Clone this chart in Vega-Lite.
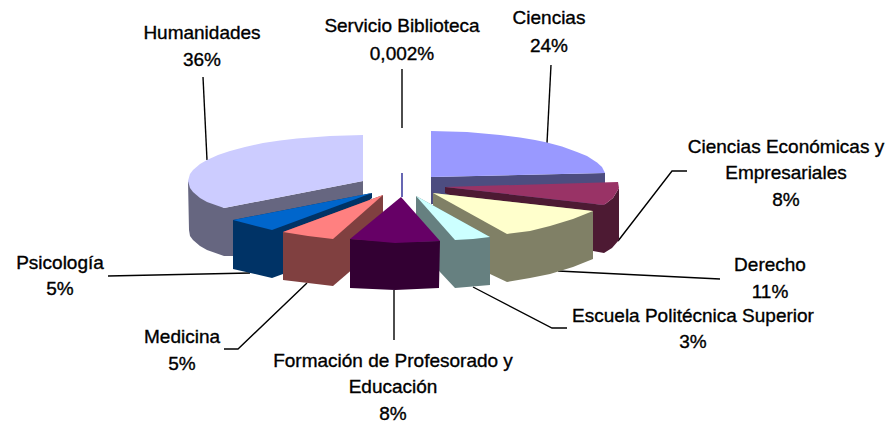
{"$schema":"https://vega.github.io/schema/vega-lite/v6.json","width":888,"height":425,"padding":0,"autosize":{"type":"fit","contains":"padding"},"background":"white","view":{"stroke":null},
"datasets":{"pieces":[
{"s":"ciw","c":"Ciencias lado","i":1,"x":431,"y":177},{"s":"ciw","c":"Ciencias lado","i":2,"x":605,"y":173},{"s":"ciw","c":"Ciencias lado","i":3,"x":605,"y":205},{"s":"ciw","c":"Ciencias lado","i":4,"x":445,"y":195},{"s":"ciw","c":"Ciencias lado","i":5,"x":433,"y":204},{"s":"ciw","c":"Ciencias lado","i":6,"x":431,"y":204},
{"s":"cit","c":"Ciencias","i":1,"x":431,"y":131},{"s":"cit","c":"Ciencias","i":2,"x":467,"y":132},{"s":"cit","c":"Ciencias","i":3,"x":500,"y":135},{"s":"cit","c":"Ciencias","i":4,"x":520,"y":137.5},{"s":"cit","c":"Ciencias","i":5,"x":535,"y":140},{"s":"cit","c":"Ciencias","i":6,"x":547,"y":142.5},{"s":"cit","c":"Ciencias","i":7,"x":562,"y":146.5},{"s":"cit","c":"Ciencias","i":8,"x":577,"y":152},{"s":"cit","c":"Ciencias","i":9,"x":587,"y":156},{"s":"cit","c":"Ciencias","i":10,"x":597,"y":162.5},{"s":"cit","c":"Ciencias","i":11,"x":602,"y":167},{"s":"cit","c":"Ciencias","i":12,"x":605,"y":173},{"s":"cit","c":"Ciencias","i":13,"x":431,"y":177},
{"s":"ecw","c":"Economicas lado","i":1,"x":445,"y":187},{"s":"ecw","c":"Economicas lado","i":2,"x":604,"y":205},{"s":"ecw","c":"Economicas lado","i":3,"x":613,"y":198},{"s":"ecw","c":"Economicas lado","i":4,"x":619,"y":188},{"s":"ecw","c":"Economicas lado","i":5,"x":619,"y":240},{"s":"ecw","c":"Economicas lado","i":6,"x":612,"y":248},{"s":"ecw","c":"Economicas lado","i":7,"x":604,"y":253},{"s":"ecw","c":"Economicas lado","i":8,"x":560,"y":245},{"s":"ecw","c":"Economicas lado","i":9,"x":445,"y":193},
{"s":"ect","c":"Economicas","i":1,"x":445,"y":187},{"s":"ect","c":"Economicas","i":2,"x":618,"y":182},{"s":"ect","c":"Economicas","i":3,"x":619,"y":188},{"s":"ect","c":"Economicas","i":4,"x":613,"y":198},{"s":"ect","c":"Economicas","i":5,"x":604,"y":205},
{"s":"dew","c":"Derecho lado","i":1,"x":433,"y":193},{"s":"dew","c":"Derecho lado","i":2,"x":593,"y":211},{"s":"dew","c":"Derecho lado","i":3,"x":593,"y":259},{"s":"dew","c":"Derecho lado","i":4,"x":573,"y":267},{"s":"dew","c":"Derecho lado","i":5,"x":550,"y":274},{"s":"dew","c":"Derecho lado","i":6,"x":530,"y":278},{"s":"dew","c":"Derecho lado","i":7,"x":507,"y":282},{"s":"dew","c":"Derecho lado","i":8,"x":490,"y":274},{"s":"dew","c":"Derecho lado","i":9,"x":433,"y":215},
{"s":"det","c":"Derecho","i":1,"x":433,"y":193},{"s":"det","c":"Derecho","i":2,"x":593,"y":211},{"s":"det","c":"Derecho","i":3,"x":573,"y":219},{"s":"det","c":"Derecho","i":4,"x":550,"y":226},{"s":"det","c":"Derecho","i":5,"x":530,"y":231},{"s":"det","c":"Derecho","i":6,"x":507,"y":234},
{"s":"esw","c":"Escuela lado","i":1,"x":416,"y":196},{"s":"esw","c":"Escuela lado","i":2,"x":490,"y":237},{"s":"esw","c":"Escuela lado","i":3,"x":490,"y":285},{"s":"esw","c":"Escuela lado","i":4,"x":455,"y":288},{"s":"esw","c":"Escuela lado","i":5,"x":440,"y":272},{"s":"esw","c":"Escuela lado","i":6,"x":416,"y":240},
{"s":"est","c":"Escuela","i":1,"x":416,"y":196},{"s":"est","c":"Escuela","i":2,"x":490,"y":237},{"s":"est","c":"Escuela","i":3,"x":473,"y":239},{"s":"est","c":"Escuela","i":4,"x":455,"y":240},
{"s":"huw","c":"Humanidades lado","i":1,"x":363,"y":181},{"s":"huw","c":"Humanidades lado","i":2,"x":363,"y":195},{"s":"huw","c":"Humanidades lado","i":3,"x":233,"y":222},{"s":"huw","c":"Humanidades lado","i":4,"x":233,"y":256},{"s":"huw","c":"Humanidades lado","i":5,"x":224,"y":256},{"s":"huw","c":"Humanidades lado","i":6,"x":207,"y":250},{"s":"huw","c":"Humanidades lado","i":7,"x":200,"y":246},{"s":"huw","c":"Humanidades lado","i":8,"x":193,"y":240},{"s":"huw","c":"Humanidades lado","i":9,"x":190,"y":236},{"s":"huw","c":"Humanidades lado","i":10,"x":189,"y":230},{"s":"huw","c":"Humanidades lado","i":11,"x":188,"y":181},{"s":"huw","c":"Humanidades lado","i":12,"x":224,"y":208},
{"s":"hut","c":"Humanidades","i":1,"x":363,"y":135},{"s":"hut","c":"Humanidades","i":2,"x":330,"y":136},{"s":"hut","c":"Humanidades","i":3,"x":297,"y":138.5},{"s":"hut","c":"Humanidades","i":4,"x":280,"y":140.5},{"s":"hut","c":"Humanidades","i":5,"x":263,"y":143},{"s":"hut","c":"Humanidades","i":6,"x":245,"y":147},{"s":"hut","c":"Humanidades","i":7,"x":230,"y":151},{"s":"hut","c":"Humanidades","i":8,"x":218,"y":155},{"s":"hut","c":"Humanidades","i":9,"x":207,"y":160},{"s":"hut","c":"Humanidades","i":10,"x":200,"y":164},{"s":"hut","c":"Humanidades","i":11,"x":193,"y":170},{"s":"hut","c":"Humanidades","i":12,"x":190,"y":174},{"s":"hut","c":"Humanidades","i":13,"x":188,"y":181},{"s":"hut","c":"Humanidades","i":14,"x":190,"y":188},{"s":"hut","c":"Humanidades","i":15,"x":193,"y":192},{"s":"hut","c":"Humanidades","i":16,"x":200,"y":198},{"s":"hut","c":"Humanidades","i":17,"x":207,"y":202},{"s":"hut","c":"Humanidades","i":18,"x":224,"y":208},{"s":"hut","c":"Humanidades","i":19,"x":363,"y":181},
{"s":"psw","c":"Psicologia lado","i":1,"x":233,"y":220},{"s":"psw","c":"Psicologia lado","i":2,"x":372,"y":193},{"s":"psw","c":"Psicologia lado","i":3,"x":372,"y":198},{"s":"psw","c":"Psicologia lado","i":4,"x":283,"y":274},{"s":"psw","c":"Psicologia lado","i":5,"x":272,"y":278},{"s":"psw","c":"Psicologia lado","i":6,"x":233,"y":269},
{"s":"pst","c":"Psicologia","i":1,"x":233,"y":220},{"s":"pst","c":"Psicologia","i":2,"x":372,"y":193},{"s":"pst","c":"Psicologia","i":3,"x":272,"y":230},
{"s":"mew","c":"Medicina lado","i":1,"x":283,"y":232},{"s":"mew","c":"Medicina lado","i":2,"x":383,"y":195},{"s":"mew","c":"Medicina lado","i":3,"x":383,"y":243},{"s":"mew","c":"Medicina lado","i":4,"x":333,"y":286},{"s":"mew","c":"Medicina lado","i":5,"x":283,"y":280},
{"s":"met","c":"Medicina","i":1,"x":283,"y":232},{"s":"met","c":"Medicina","i":2,"x":383,"y":195},{"s":"met","c":"Medicina","i":3,"x":333,"y":239},{"s":"met","c":"Medicina","i":4,"x":308,"y":236},
{"s":"few","c":"Formacion lado","i":1,"x":350,"y":239},{"s":"few","c":"Formacion lado","i":2,"x":395,"y":242},{"s":"few","c":"Formacion lado","i":3,"x":440,"y":241},{"s":"few","c":"Formacion lado","i":4,"x":439,"y":288},{"s":"few","c":"Formacion lado","i":5,"x":395,"y":290},{"s":"few","c":"Formacion lado","i":6,"x":350,"y":288},
{"s":"fet","c":"Formacion","i":1,"x":401,"y":197},{"s":"fet","c":"Formacion","i":2,"x":440,"y":241},{"s":"fet","c":"Formacion","i":3,"x":395,"y":243},{"s":"fet","c":"Formacion","i":4,"x":350,"y":239}
],
"leaders":[
{"s":"hu","i":1,"x":203,"y":77},{"s":"hu","i":2,"x":207,"y":160},
{"s":"sb","i":1,"x":402,"y":69},{"s":"sb","i":2,"x":402,"y":128},
{"s":"ci","i":1,"x":551,"y":65},{"s":"ci","i":2,"x":547,"y":143},
{"s":"ec","i":1,"x":687,"y":171},{"s":"ec","i":2,"x":672,"y":171},{"s":"ec","i":3,"x":618,"y":241},
{"s":"de","i":1,"x":558,"y":271},{"s":"de","i":2,"x":720,"y":279},
{"s":"es","i":1,"x":473,"y":287},{"s":"es","i":2,"x":552,"y":328},{"s":"es","i":3,"x":567,"y":328},
{"s":"fe","i":1,"x":394,"y":290},{"s":"fe","i":2,"x":394,"y":340},
{"s":"me","i":1,"x":307,"y":283},{"s":"me","i":2,"x":238,"y":349},{"s":"me","i":3,"x":224,"y":349},
{"s":"ps","i":1,"x":108,"y":276},{"s":"ps","i":2,"x":250,"y":273}
],
"sliver":[{"s":"sb","i":1,"x":402,"y":173},{"s":"sb","i":2,"x":402,"y":197}],
"labels":[
{"t":"Humanidades","x":202,"y":33},{"t":"36%","x":202,"y":60},
{"t":"Servicio Biblioteca","x":402,"y":26},{"t":"0,002%","x":402,"y":54},
{"t":"Ciencias","x":549,"y":18},{"t":"24%","x":549,"y":46},
{"t":"Ciencias Económicas y","x":786,"y":147},{"t":"Empresariales","x":786,"y":173},{"t":"8%","x":786,"y":200},
{"t":"Derecho","x":770,"y":265},{"t":"11%","x":770,"y":292},
{"t":"Escuela Politécnica Superior","x":693,"y":316},{"t":"3%","x":693,"y":342},
{"t":"Formación de Profesorado y","x":393,"y":361},{"t":"Educación","x":393,"y":387},{"t":"8%","x":393,"y":414},
{"t":"Medicina","x":182,"y":337},{"t":"5%","x":182,"y":364},
{"t":"Psicología","x":60,"y":263},{"t":"5%","x":60,"y":289}
]},
"layer":[
{"data":{"name":"leaders"},"mark":{"type":"line","color":"black","strokeWidth":1.4},"encoding":{"x":{"field":"x","type":"quantitative","scale":{"domain":[0,888],"nice":false,"zero":false},"axis":null},"y":{"field":"y","type":"quantitative","scale":{"domain":[425,0],"nice":false,"zero":false},"axis":null},"detail":{"field":"s"},"order":{"field":"i"}}},
{"data":{"name":"sliver"},"mark":{"type":"line","color":"#000080","strokeWidth":1.2},"encoding":{"x":{"field":"x","type":"quantitative","axis":null},"y":{"field":"y","type":"quantitative","axis":null},"detail":{"field":"s"},"order":{"field":"i"}}},
{"data":{"name":"pieces"},"mark":{"type":"line","strokeWidth":0},"encoding":{"x":{"field":"x","type":"quantitative","axis":null},"y":{"field":"y","type":"quantitative","axis":null},"detail":{"field":"s"},"order":{"field":"i"},
"fill":{"field":"c","type":"nominal","legend":null,"scale":{"domain":["Ciencias","Ciencias lado","Economicas","Economicas lado","Derecho","Derecho lado","Escuela","Escuela lado","Humanidades","Humanidades lado","Psicologia","Psicologia lado","Medicina","Medicina lado","Formacion","Formacion lado"],"range":["#9999FF","#4D4D80","#993366","#4D1A33","#FFFFCC","#808066","#CCFFFF","#668080","#CCCCFF","#666680","#0066CC","#003366","#FF8080","#804040","#660066","#330033"]}}}},
{"data":{"name":"labels"},"mark":{"type":"text","font":"Liberation Sans","fontSize":19,"color":"black","stroke":"black","strokeWidth":0.35,"align":"center","baseline":"middle"},"encoding":{"x":{"field":"x","type":"quantitative","axis":null},"y":{"field":"y","type":"quantitative","axis":null},"text":{"field":"t"}}}
]}
